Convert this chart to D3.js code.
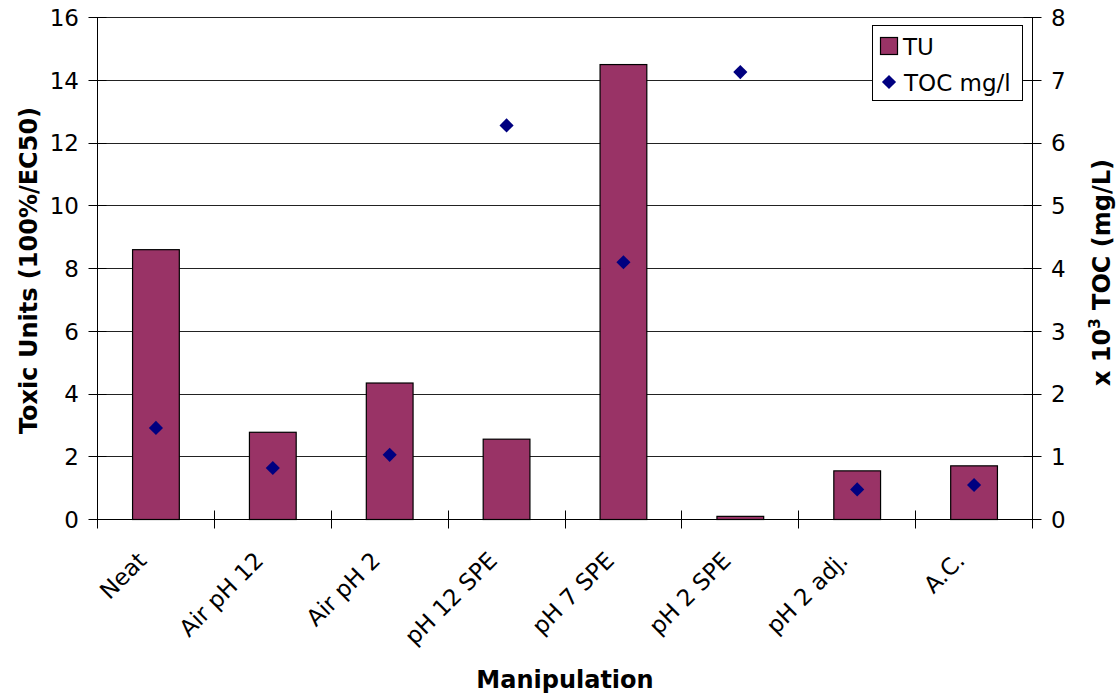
<!DOCTYPE html>
<html>
<head>
<meta charset="utf-8">
<script src="https://cdn.jsdelivr.net/npm/d3@7/dist/d3.min.js"></script>
<style>
  html, body { margin: 0; padding: 0; background: #fff; }
  svg { display: block; }
  text { font-family: "DejaVu Sans", Verdana, sans-serif; fill: #000; }
</style>
</head>
<body>
<svg id="chart" width="1120" height="699"></svg>
<script>
const categories = ["Neat", "Air pH 12", "Air pH 2", "pH 12 SPE", "pH 7 SPE", "pH 2 SPE", "pH 2 adj.", "A.C."];
const tuValues = [8.6, 2.78, 4.35, 2.56, 14.5, 0.1, 1.55, 1.71];
const tocValues = [1.46, 0.82, 1.03, 6.28, 4.1, 7.13, 0.48, 0.55];
const leftTicks = [0, 2, 4, 6, 8, 10, 12, 14, 16];
const rightTicks = [0, 1, 2, 3, 4, 5, 6, 7, 8];
const seriesNames = ["TU", "TOC mg/l"];

const svg = d3.select("#chart");
const L = 97.5, R = 1032.5, T = 17.5, B = 519.5;
const barColor = "#993366", dotColor = "#000080";
const px = v => Math.round(v - 0.5) + 0.5;

const x = d3.scaleBand().domain(categories).range([L, R]).paddingInner(0.6).paddingOuter(0.3);
const yL = d3.scaleLinear().domain([0, 16]).range([B, T]);
const yR = d3.scaleLinear().domain([0, 8]).range([B, T]);
const step = x.step();

// gridlines
svg.append("g").selectAll("line").data(leftTicks.filter(d => d > 0)).join("line")
  .attr("x1", L).attr("x2", R)
  .attr("y1", d => px(yL(d))).attr("y2", d => px(yL(d)))
  .attr("stroke", "#222").attr("stroke-width", 1);

// bars
svg.append("g").selectAll("rect").data(categories).join("rect")
  .attr("x", c => x(c))
  .attr("width", x.bandwidth())
  .attr("y", (c, i) => yL(tuValues[i]))
  .attr("height", (c, i) => B - yL(tuValues[i]))
  .attr("fill", barColor).attr("stroke", "#000").attr("stroke-width", 1.2);

// axes lines
const axes = svg.append("g").attr("stroke", "#000").attr("stroke-width", 1);
axes.append("line").attr("x1", L).attr("x2", L).attr("y1", T).attr("y2", B);
axes.append("line").attr("x1", R).attr("x2", R).attr("y1", T).attr("y2", B);
axes.append("line").attr("x1", L).attr("x2", R).attr("y1", B).attr("y2", B);

// left ticks
axes.selectAll(".lt").data(leftTicks).join("line").attr("class", "lt")
  .attr("x1", L - 9).attr("x2", L + 9)
  .attr("y1", d => px(yL(d))).attr("y2", d => px(yL(d)));
// right ticks
axes.selectAll(".rt").data(rightTicks).join("line").attr("class", "rt")
  .attr("x1", R - 9).attr("x2", R + 9)
  .attr("y1", d => px(yR(d))).attr("y2", d => px(yR(d)));
// category boundary ticks
const bounds = categories.map(c => x(c) + x.bandwidth() / 2 - step / 2).concat([R]);
axes.selectAll(".xt").data(bounds).join("line").attr("class", "xt")
  .attr("x1", d => px(d)).attr("x2", d => px(d))
  .attr("y1", B - 9).attr("y2", B + 9);

// left tick labels
svg.append("g").selectAll("text").data(leftTicks).join("text")
  .attr("x", 79).attr("y", d => yL(d)).attr("dy", "0.36em")
  .attr("text-anchor", "end").attr("font-size", 23).text(d => d);
// right tick labels
svg.append("g").selectAll("text").data(rightTicks).join("text")
  .attr("x", 1051).attr("y", d => yR(d)).attr("dy", "0.36em")
  .attr("text-anchor", "start").attr("font-size", 23).text(d => d);

// category labels
svg.append("g").selectAll("text").data(categories).join("text")
  .attr("transform", c => `translate(${x(c) + x.bandwidth() / 2 - 8},${562}) rotate(-45)`)
  .attr("text-anchor", "end").attr("font-size", 23).text(c => c);

// diamonds
const diamond = d3.symbol().type(d3.symbolSquare).size(100);
svg.append("g").selectAll("path").data(categories).join("path")
  .attr("d", diamond)
  .attr("transform", (c, i) => `translate(${x(c) + x.bandwidth() / 2},${yR(tocValues[i])}) rotate(45)`)
  .attr("fill", dotColor);

// axis titles
svg.append("text").attr("transform", `translate(37,${(T + B) / 2 + 2}) rotate(-90)`)
  .attr("text-anchor", "middle").attr("font-size", 24).attr("font-weight", "bold")
  .text("Toxic Units (100%/EC50)");

const rt = svg.append("text").attr("transform", `translate(1110,${(T + B) / 2 + 4}) rotate(-90)`)
  .attr("text-anchor", "middle").attr("font-size", 24).attr("font-weight", "bold");
rt.append("tspan").text("x 10");
rt.append("tspan").attr("font-size", 15).attr("dy", -10).text("3");
rt.append("tspan").attr("dy", 10).text(" TOC (mg/L)");

svg.append("text").attr("x", (L + R) / 2).attr("y", 688)
  .attr("text-anchor", "middle").attr("font-size", 24).attr("font-weight", "bold")
  .text("Manipulation");

// legend
const lg = svg.append("g");
lg.append("rect").attr("x", 872.5).attr("y", 25.5).attr("width", 150).attr("height", 75)
  .attr("fill", "#fff").attr("stroke", "#000").attr("stroke-width", 1);
lg.append("rect").attr("x", 880.5).attr("y", 37.5).attr("width", 17).attr("height", 17)
  .attr("fill", barColor).attr("stroke", "#000").attr("stroke-width", 1.2);
lg.append("path").attr("d", diamond).attr("transform", "translate(889,82) rotate(45)").attr("fill", dotColor);
lg.append("text").attr("x", 903).attr("y", 55).attr("font-size", 23).text(seriesNames[0]);
lg.append("text").attr("x", 904).attr("y", 91).attr("font-size", 23).text(seriesNames[1]);
</script>
</body>
</html>
